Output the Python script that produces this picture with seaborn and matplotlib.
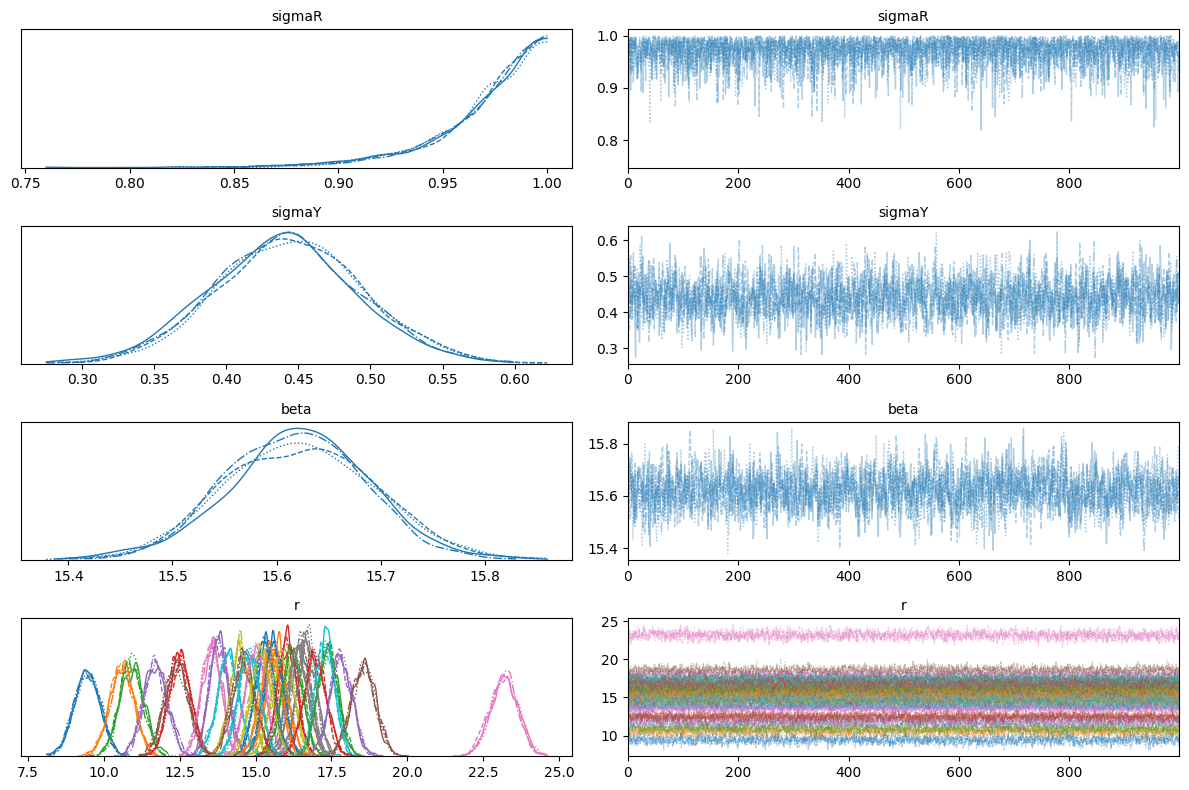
import numpy as np
import pandas as pd
import matplotlib
matplotlib.use("Agg")
import matplotlib.pyplot as plt
import seaborn as sns

# ---------------- data ----------------
n_draws = 1000
chain_ids = [0, 1, 2, 3]
var_names = ["sigmaR", "sigmaY", "beta", "r"]

# sigmaR: bounded at 1, long left tail
sigmaR_tail_scale = [0.031, 0.030, 0.031, 0.030]
sigmaR_start = [0.76, 0.84, 0.90]          # first draws of chain 0 (warm-up dip)
sigmaR_range = [0.82, 1.0]

# sigmaY and beta: per-chain posterior mean / sd, observed range
sigmaY_mean = [0.438, 0.446, 0.447, 0.440]
sigmaY_sd = [0.051, 0.052, 0.050, 0.050]
sigmaY_range = [0.275, 0.64]
beta_mean = [15.618, 15.622, 15.625, 15.621]
beta_sd = [0.068, 0.071, 0.070, 0.066]
beta_range = [15.37, 15.86]

# r: 30 components, posterior mean / sd
r_means = [9.45, 10.6, 10.9, 12.5, 11.7, 12.4, 13.55, 16.5, 14.5, 14.1,
           15.3, 15.7, 17.4, 16.05, 13.8, 14.6, 15.0, 16.7, 15.9, 17.3,
           15.6, 15.5, 16.2, 16.95, 17.8, 18.55, 23.2, 16.4, 15.2, 14.8]
r_sds = [0.43, 0.40, 0.39, 0.36, 0.39, 0.39, 0.33, 0.32, 0.34, 0.35,
         0.32, 0.35, 0.34, 0.31, 0.31, 0.39, 0.34, 0.32, 0.36, 0.32,
         0.32, 0.35, 0.34, 0.37, 0.38, 0.40, 0.46, 0.34, 0.35, 0.35]
r_range = [8.1, 25.0]

# ---------------- sample generation ----------------
rng = np.random.default_rng(11)


def ar1(n, phi):
    e = rng.standard_normal(n)
    z = np.empty(n)
    z[0] = e[0]
    s = np.sqrt(1 - phi ** 2)
    for t in range(1, n):
        z[t] = phi * z[t - 1] + s * e[t]
    return z


draws = np.arange(n_draws)
samples = {v: [] for v in var_names}
for c in chain_ids:
    x = rng.weibull(1.1, n_draws) * sigmaR_tail_scale[c]
    sr = np.clip(1.0 - x, *sigmaR_range)
    if c == 0:
        sr[:len(sigmaR_start)] = sigmaR_start
    samples["sigmaR"].append(sr)
    samples["sigmaY"].append(np.clip(sigmaY_mean[c] + sigmaY_sd[c] * ar1(n_draws, 0.35),
                                     *sigmaY_range))
    samples["beta"].append(np.clip(beta_mean[c] + beta_sd[c] * ar1(n_draws, 0.35),
                                   *beta_range))
    samples["r"].append([np.clip(m + s * ar1(n_draws, 0.3), *r_range)
                         for m, s in zip(r_means, r_sds)])

# ---------------- plotting ----------------
chain_styles = ["-", "--", ":", "-."]
palette = sns.color_palette("tab10", 10)

fig, axes = plt.subplots(4, 2, figsize=(12, 8), dpi=100)

for row, var in enumerate(var_names):
    ax_k, ax_t = axes[row]
    for c in chain_ids:
        ls = chain_styles[c]
        if var == "r":
            for i, vals in enumerate(samples["r"][c]):
                col = palette[i % 10]
                sns.kdeplot(x=vals, ax=ax_k, color=col, linestyle=ls, linewidth=1,
                            cut=0, bw_adjust=0.6)
                sns.lineplot(x=draws, y=vals, ax=ax_t, color=col, linestyle=ls,
                             linewidth=0.8, alpha=0.35, estimator=None, sort=False)
        else:
            vals = samples[var][c]
            col = palette[0]
            if var == "sigmaR":
                refl = np.concatenate([vals, 2.0 - vals])
                sns.kdeplot(x=refl, ax=ax_k, color=col, linestyle=ls, linewidth=1,
                            cut=0, clip=(0.0, 1.0), bw_adjust=0.6)
            else:
                sns.kdeplot(x=vals, ax=ax_k, color=col, linestyle=ls, linewidth=1,
                            cut=0)
            sns.lineplot(x=draws, y=vals, ax=ax_t, color=col, linestyle=ls,
                         linewidth=1.0, alpha=0.35, estimator=None, sort=False)
    for ax in (ax_k, ax_t):
        ax.set_title(var, fontsize=10)
        ax.set_xlabel("")
        ax.set_ylabel("")
        ax.tick_params(labelsize=10)
    ax_k.set_yticks([])
    ax_t.set_xlim(0, n_draws - 1)
    ax_t.set_xticks([0, 200, 400, 600, 800])

fig.tight_layout()
fig.savefig("out.png", dpi=100, bbox_inches="tight", pad_inches=0.1)
